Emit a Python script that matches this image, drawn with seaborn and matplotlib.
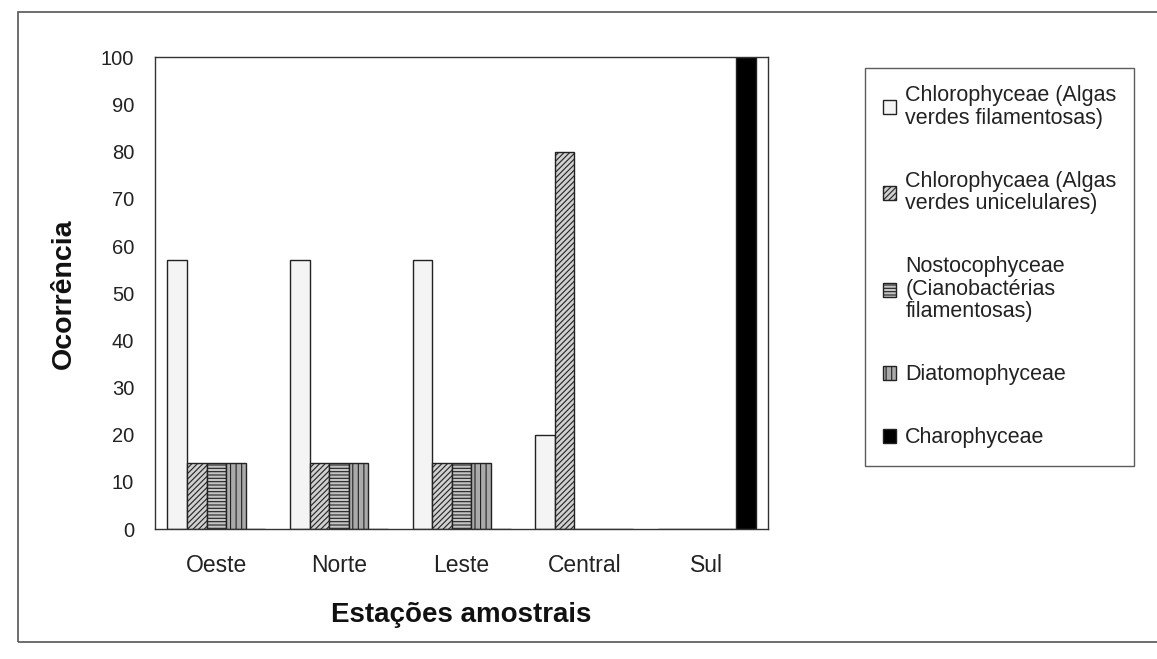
import matplotlib
matplotlib.use("Agg")
import matplotlib.pyplot as plt
import seaborn as sns
import pandas as pd
from matplotlib.patches import Rectangle

stations = ["Oeste", "Norte", "Leste", "Central", "Sul"]
series = [
    "Chlorophyceae (Algas\nverdes filamentosas)",
    "Chlorophycaea (Algas\nverdes unicelulares)",
    "Nostocophyceae\n(Cianobactérias\nfilamentosas)",
    "Diatomophyceae",
    "Charophyceae",
]
chloro_fil = [57, 57, 57, 20, 0]
chloro_uni = [14, 14, 14, 80, 0]
nostoco = [14, 14, 14, 0, 0]
diatom = [14, 14, 14, 0, 0]
charo = [0, 0, 0, 0, 100]

values = [chloro_fil, chloro_uni, nostoco, diatom, charo]
rows = []
for s, vals in zip(series, values):
    for st, v in zip(stations, vals):
        rows.append({"Estação": st, "Grupo": s, "Ocorrência": v})
df = pd.DataFrame(rows)

sns.set_theme(style="white")
plt.rcParams["font.family"] = ["Liberation Sans", "DejaVu Sans"]
plt.rcParams["hatch.linewidth"] = 0.8

fig = plt.figure(figsize=(11.57, 6.59), dpi=100)
ax = fig.add_axes([0.134, 0.197, 0.530, 0.716])

sns.barplot(data=df, x="Estação", y="Ocorrência", hue="Grupo",
            hue_order=series, order=stations, width=0.8,
            palette=["white", "#d9d9d9", "#bdbdbd", "#a8a8a8", "black"],
            edgecolor="black", linewidth=1.0, legend=False, ax=ax)

styles = [
    ("#f4f4f4", ""),
    ("#d0d0d0", "//////"),
    ("#c4c4c4", "-----"),
    ("#aaaaaa", "|||"),
    ("black", ""),
]
for cont, (fc, h) in zip(ax.containers, styles):
    for p in cont.patches:
        p.set_facecolor(fc)
        p.set_hatch(h)
        p.set_edgecolor("#222222")

ax.set_xlim(-0.5, 4.5)
ax.set_ylim(0, 100)
ax.set_yticks(range(0, 101, 10))
ax.set_xticks(range(5))
ax.set_xticks([i - 0.5 for i in range(6)], minor=True)
ax.tick_params(axis="x", which="major", length=0, pad=18, labelsize=16.5, labelcolor="#222222")
ax.tick_params(axis="x", which="minor", length=6, width=0.8, direction="out", color="#333333")
ax.tick_params(axis="y", length=6, width=0.8, direction="out", pad=9, labelsize=14.5,
               color="#333333", labelcolor="#222222")
ax.set_xlabel("Estações amostrais", fontsize=20, fontweight="bold", labelpad=18, color="#111111")
ax.set_ylabel("Ocorrência", fontsize=20.5, fontweight="bold", labelpad=17, color="#111111")
for sp in ax.spines.values():
    sp.set_visible(True)
    sp.set_color("#333333")
    sp.set_linewidth(1.0)

leg = ax.legend(ax.containers, series, loc="upper left",
                bbox_to_anchor=(0.748, 0.897), bbox_transform=fig.transFigure,
                fontsize=15.5, frameon=True, fancybox=False, edgecolor="#333333",
                handlelength=0.6, handleheight=0.6, handletextpad=0.45,
                labelspacing=1.95, borderpad=0.8, borderaxespad=0)
leg.get_frame().set_linewidth(1.0)
for t in leg.get_texts():
    t.set_linespacing(1.1)
    t.set_color("#222222")

fig.add_artist(Rectangle((0.0156, 0.026), 0.99, 0.956, transform=fig.transFigure,
                         fill=False, edgecolor="#555555", linewidth=1.2))

fig.savefig("out.png", dpi=100)
